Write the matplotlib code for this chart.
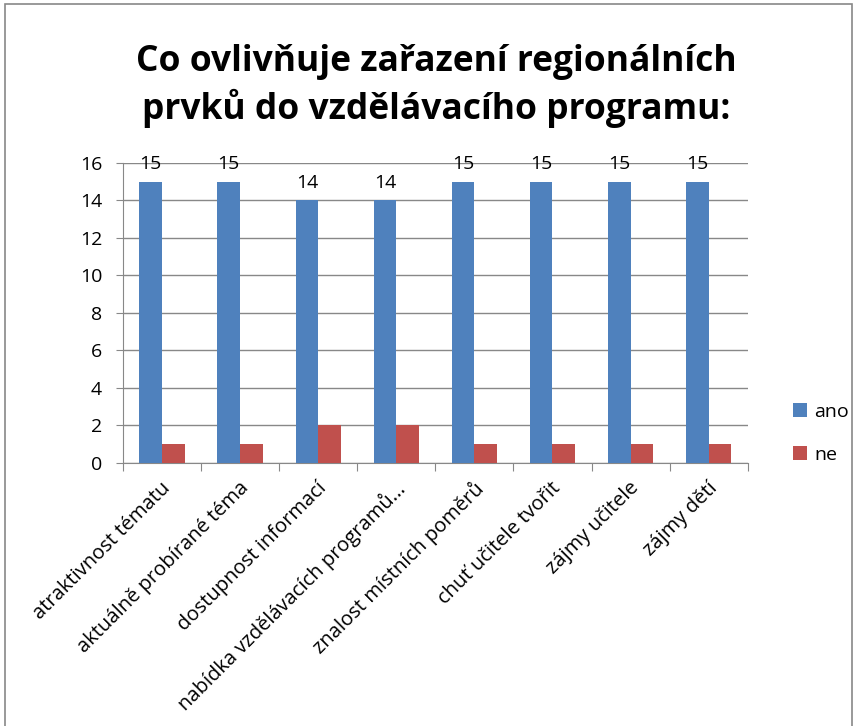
import matplotlib.pyplot as plt
import numpy as np
from matplotlib.patches import Rectangle

plt.rcParams['font.family'] = ['Open Sans', 'DejaVu Sans']

categories = ['atraktivnost tématu', 'aktuálně probírané téma', 'dostupnost informací',
              'nabídka vzdělávacích programů...', 'znalost místních poměrů',
              'chuť učitele tvořit', 'zájmy učitele', 'zájmy dětí']
ano = [15, 15, 14, 14, 15, 15, 15, 15]
ne = [1, 1, 2, 2, 1, 1, 1, 1]

fig = plt.figure(figsize=(8.57, 7.26), dpi=100)
ax = fig.add_axes([0.1435, 0.3623, 0.729, 0.4132])

x = np.arange(len(categories))
width = 0.29
ax.bar(x - width / 2, ano, width, color='#4F81BD', label='ano', zorder=3)
ax.bar(x + width / 2, ne, width, color='#C0504D', label='ne', zorder=3)

for i, v in enumerate(ano):
    ax.text(i - width / 2, v + 0.45, str(v), ha='center', va='bottom', fontsize=14)

ax.set_xlim(-0.5, len(categories) - 0.5)
ax.set_ylim(0, 16)
ax.set_yticks(range(0, 17, 2))
ax.tick_params(axis='y', labelsize=14, length=5, color='#888888', pad=10)
ax.grid(axis='y', color='#888888', linewidth=1, zorder=0)

ax.set_xticks(np.arange(-0.5, len(categories), 1))
ax.set_xticklabels([])
ax.tick_params(axis='x', length=6, color='#888888', direction='out')
for i, c in enumerate(categories):
    ax.text(i - 0.02, -0.8, c, rotation=45, ha='right', va='top',
            rotation_mode='anchor', fontsize=14.5)

for s in ['top', 'right']:
    ax.spines[s].set_visible(False)
for s in ['left', 'bottom']:
    ax.spines[s].set_color('#888888')

fig.suptitle('Co ovlivňuje zařazení regionálních\nprvků do vzdělávacího programu:',
             fontsize=25.5, fontweight='bold', x=0.509, y=0.94, linespacing=1.3)

fig.legend(loc='center left', bbox_to_anchor=(0.905, 0.403), frameon=False,
           fontsize=14, handlelength=0.7, handleheight=0.7, handletextpad=0.4,
           labelspacing=1.3)

fig.patches.append(Rectangle((0.006, -0.01), 0.988, 1.005, transform=fig.transFigure,
                             fill=False, edgecolor='#888888', linewidth=1.2))

fig.savefig('out.png', dpi=100)
